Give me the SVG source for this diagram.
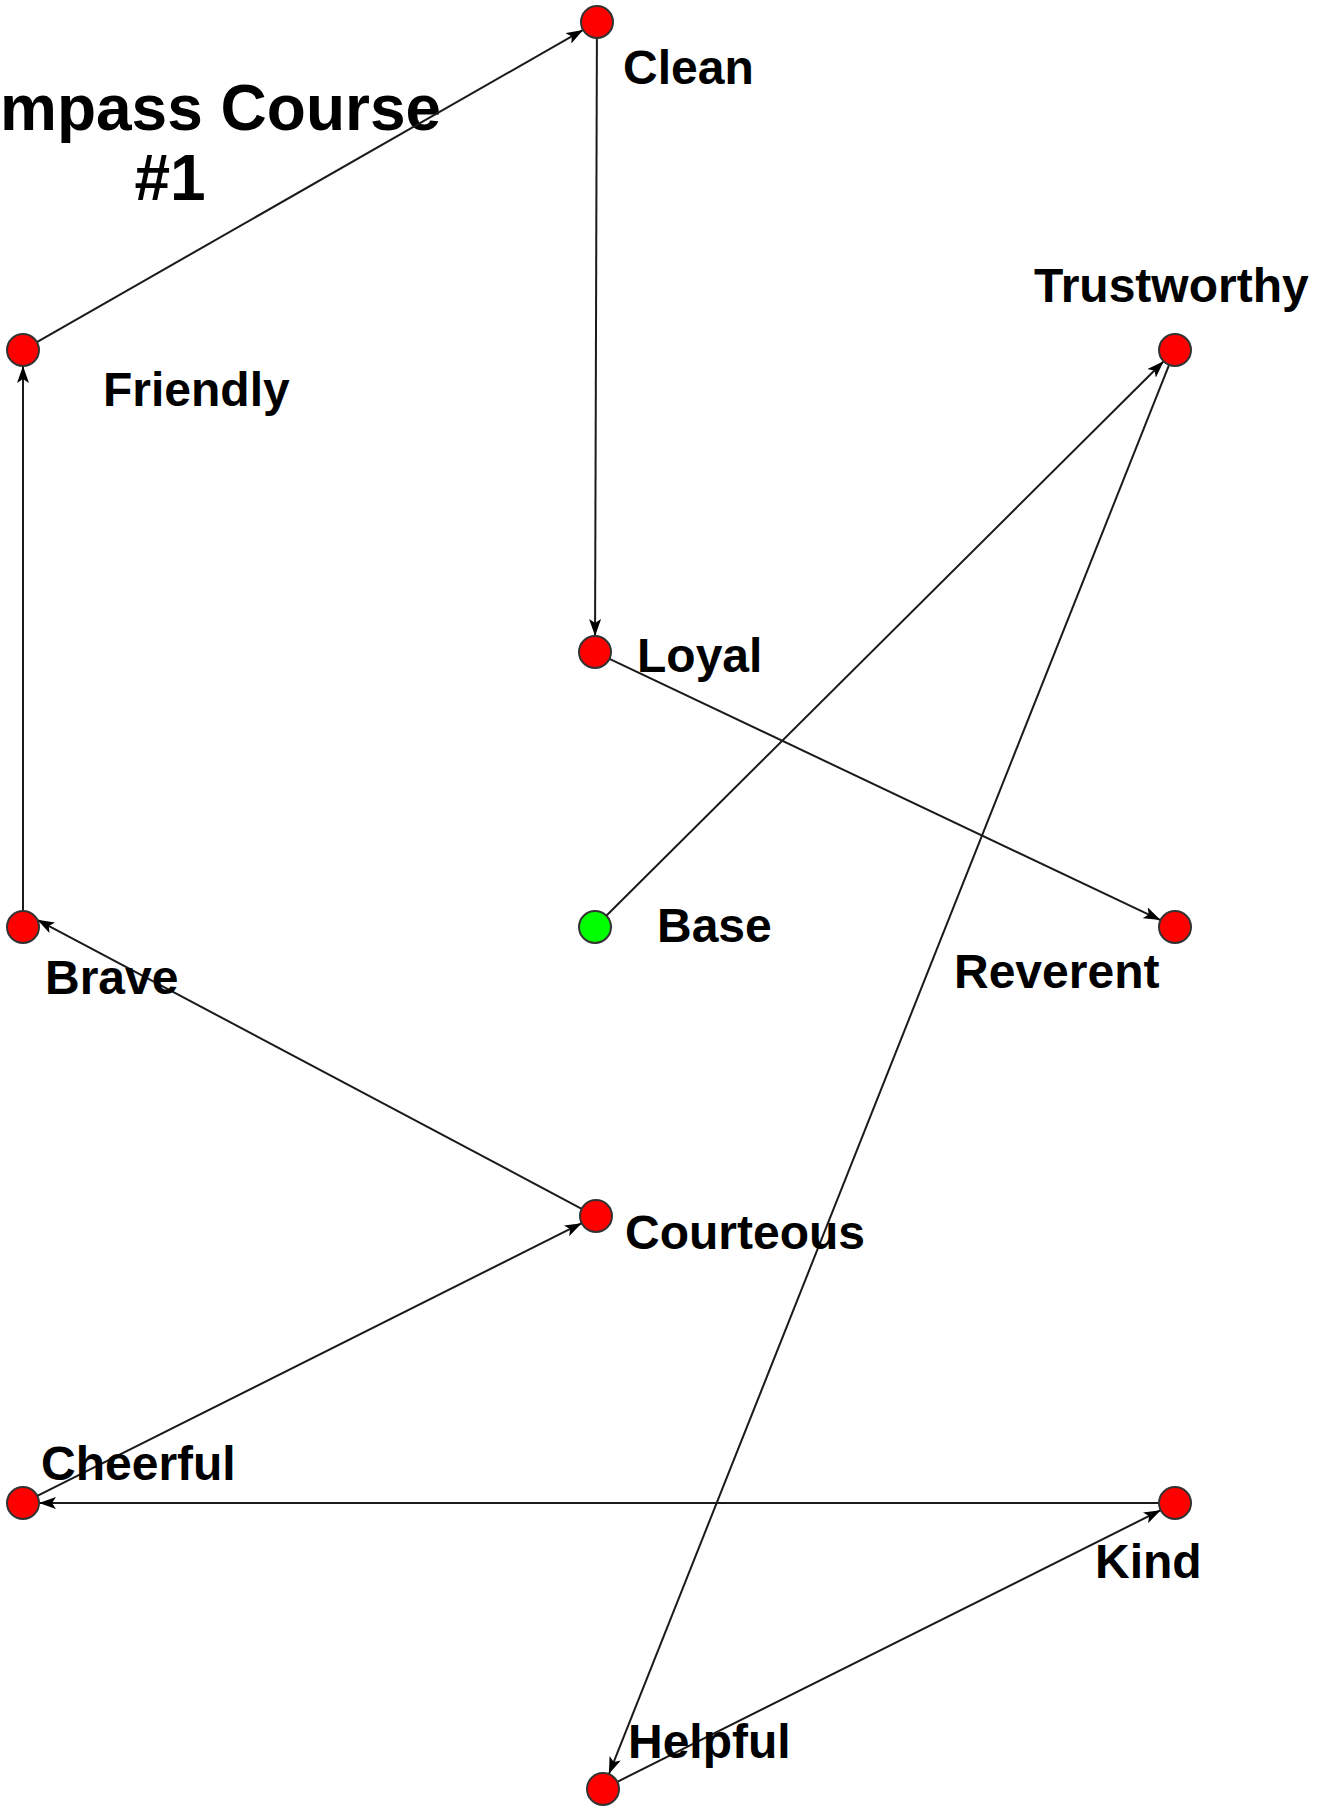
<svg xmlns="http://www.w3.org/2000/svg" width="1331" height="1808" viewBox="0 0 1331 1808">
<defs>
<style>
.lbl{font-family:"Liberation Sans",Arial,sans-serif;font-weight:bold;font-size:48px;fill:#000}
.ttl{font-family:"Liberation Sans",Arial,sans-serif;font-weight:bold;font-size:64px;fill:#000}
.edge{stroke:#1a1a1a;stroke-width:2;fill:none;marker-end:url(#arr)}
.n{fill:#ff0000;stroke:#333;stroke-width:2}
.g{fill:#00ff00;stroke:#333;stroke-width:2}
</style>
<marker id="arr" markerUnits="userSpaceOnUse" markerWidth="18" markerHeight="12" refX="17" refY="6" orient="auto">
<path d="M0,0 L17,6 L0,12 L4,6 z" fill="#000"/>
</marker>
</defs>
<rect width="1331" height="1808" fill="#fff"/>
<g id="title">
<text class="ttl" x="0" y="130">mpass Course</text>
<text class="ttl" x="170" y="200" text-anchor="middle">#1</text>
</g>
<g id="connectors">
<line class="edge" x1="36.9" y1="342.1" x2="583.1" y2="29.9"/>
<line class="edge" x1="596.9" y1="38" x2="595.05" y2="636"/>
<line class="edge" x1="609.5" y1="658.9" x2="1160.5" y2="920.1"/>
<line class="edge" x1="606.3" y1="915.7" x2="1163.7" y2="361.3"/>
<line class="edge" x1="1169.1" y1="364.9" x2="608.9" y2="1774.1"/>
<line class="edge" x1="617.3" y1="1781.8" x2="1160.7" y2="1510.2"/>
<line class="edge" x1="1159" y1="1503" x2="39" y2="1503"/>
<line class="edge" x1="37.3" y1="1495.8" x2="581.7" y2="1223.2"/>
<line class="edge" x1="581.7" y1="1208.8" x2="37.3" y2="919.8"/>
<line class="edge" x1="23" y1="911" x2="23" y2="366"/>
</g>
<g id="clean"><circle class="n" cx="597" cy="22" r="16"/><text class="lbl" x="623" y="84">Clean</text></g>
<g id="friendly"><circle class="n" cx="23" cy="350" r="16"/><text class="lbl" x="103" y="406">Friendly</text></g>
<g id="trustworthy"><circle class="n" cx="1175" cy="350" r="16"/><text class="lbl" x="1034" y="302">Trustworthy</text></g>
<g id="loyal"><circle class="n" cx="595" cy="652" r="16"/><text class="lbl" x="637" y="672">Loyal</text></g>
<g id="base"><circle class="g" cx="595" cy="927" r="16"/><text class="lbl" x="657" y="942">Base</text></g>
<g id="brave"><circle class="n" cx="23" cy="927" r="16"/><text class="lbl" x="45" y="994">Brave</text></g>
<g id="reverent"><circle class="n" cx="1175" cy="927" r="16"/><text class="lbl" x="954" y="988">Reverent</text></g>
<g id="courteous"><circle class="n" cx="596" cy="1216" r="16"/><text class="lbl" x="625" y="1249">Courteous</text></g>
<g id="cheerful"><circle class="n" cx="23" cy="1503" r="16"/><text class="lbl" x="41" y="1480">Cheerful</text></g>
<g id="kind"><circle class="n" cx="1175" cy="1503" r="16"/><text class="lbl" x="1095" y="1578">Kind</text></g>
<g id="helpful"><circle class="n" cx="603" cy="1789" r="16"/><text class="lbl" x="628" y="1758">Helpful</text></g>
</svg>
